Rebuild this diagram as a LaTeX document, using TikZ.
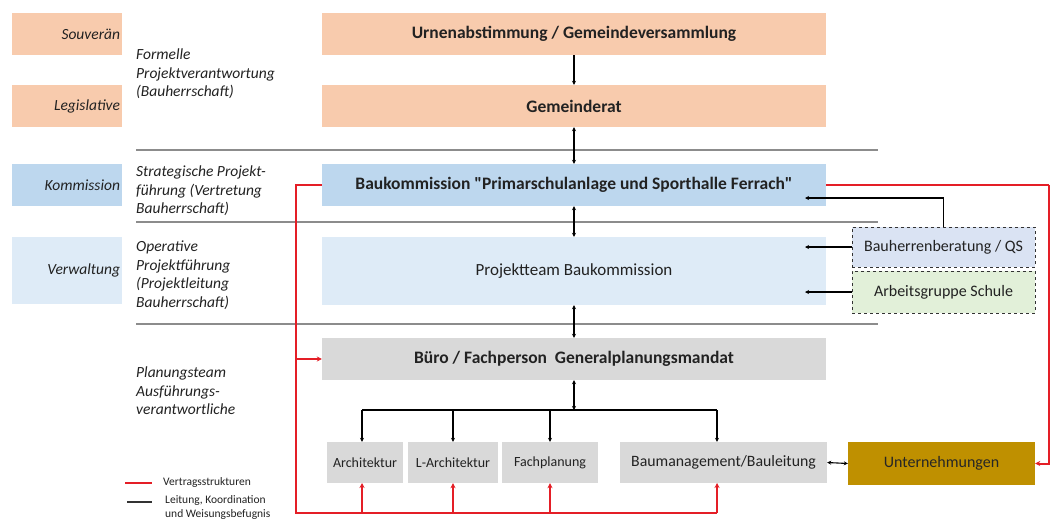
\documentclass[tikz,border=0pt]{standalone}
\usepackage{fontspec}
\setmainfont{Carlito}
\usetikzlibrary{arrows.meta}
\definecolor{peach}{HTML}{F8CBAD}
\definecolor{kblue}{HTML}{BDD7EE}
\definecolor{lblue}{HTML}{DEEBF7}
\definecolor{lgray}{HTML}{D9D9D9}
\definecolor{gold}{HTML}{BF9000}
\definecolor{lav}{HTML}{DAE3F3}
\definecolor{lgreen}{HTML}{E2F0D9}
\definecolor{myred}{HTML}{E41E26}
\definecolor{sepgray}{HTML}{8C8C8C}
\definecolor{txt}{HTML}{222222}
\tikzset{
  box/.style={inner sep=0pt, text=txt},
  sidebox/.style={box, minimum width=110pt, align=right, font=\fontsize{15.5}{17}\selectfont\itshape, text width=106pt},
  sidetxt/.style={inner sep=0pt, anchor=west, align=left, text=txt, font=\fontsize{15.5}{18.5}\selectfont\itshape},
  mainbox/.style={box, minimum width=504pt, font=\fontsize{17.5}{20}\selectfont\bfseries},
  subbox/.style={box, fill=lgray, minimum height=41pt, font=\fontsize{14}{16}\selectfont},
  dbox/.style={box, draw=black!80, dashed, line width=1pt, minimum width=183pt, font=\fontsize{16}{18}\selectfont},
  sep/.style={draw=sepgray, line width=1.5pt},
  arr/.style={draw=black, line width=1.1pt, -{Stealth[length=4pt,width=4pt]}},
  darr/.style={draw=black, line width=1.1pt, {Stealth[length=4pt,width=4pt]}-{Stealth[length=4pt,width=4pt]}},
  redl/.style={draw=myred, line width=2pt},
  redarr/.style={draw=myred, line width=2pt, -{Stealth[length=5pt,width=5pt]}},
}
\begin{document}
\begin{tikzpicture}[x=1pt,y=-1pt]
\useasboundingbox (0,0) rectangle (1051,520);
\fill[white] (0,0) rectangle (1051,520);

% separators
\draw[sep] (136,150) -- (878,150);
\draw[sep] (136,222) -- (878,222);
\draw[sep] (136,324) -- (878,324);

% left category boxes
\node[sidebox, fill=peach, minimum height=42pt] (souv) at (67,34) {Souverän};
\node[sidebox, fill=peach, minimum height=42pt] (legis) at (67,106) {Legislative};
\node[sidebox, fill=kblue, minimum height=42pt] (komm) at (67,185) {Kommission};
\node[sidebox, fill=lblue, minimum height=67pt] (verw) at (67,270.5) {Verwaltung};

% side descriptions
\node[sidetxt] (t1) at (136,74) {Formelle\\Projektverantwortung\\(Bauherrschaft)};
\node[sidetxt] (t2) at (136,191) {Strategische Projekt-\\führung (Vertretung\\Bauherrschaft)};
\node[sidetxt] (t3) at (136,275) {Operative\\Projektführung\\(Projektleitung\\Bauherrschaft)};
\node[sidetxt] (t4) at (136,391) {Planungsteam\\Ausführungs-\\verantwortliche};

% main boxes
\node[mainbox, fill=peach, minimum height=42pt] (urnen) at (574,34) {Urnenabstimmung / Gemeindeversammlung};
\node[mainbox, fill=peach, minimum height=42pt] (gemeinde) at (574,106) {Gemeinderat};
\node[mainbox, fill=kblue, minimum height=42pt] (baukomm) at (574,185) {Baukommission \textquotedbl Primarschulanlage und Sporthalle Ferrach\textquotedbl};
\node[mainbox, fill=lblue, minimum height=68pt, font=\fontsize{17}{19}\selectfont] (projekt) at (574,271) {Projektteam Baukommission};
\node[mainbox, fill=lgray, minimum height=42pt] (buero) at (574,359) {Büro / Fachperson\ \ Generalplanungsmandat};

% sub boxes
\node[subbox, minimum width=76pt] (arch) at (365,462.5) {Architektur};
\node[subbox, minimum width=90pt] (larch) at (453,462.5) {L-Architektur};
\node[subbox, minimum width=96pt] (fach) at (550,462.5) {Fachplanung};
\node[subbox, minimum width=207pt, font=\fontsize{15.8}{18}\selectfont] (baum) at (723.5,462.5) {Baumanagement/Bauleitung};
\node[box, fill=gold, minimum width=187pt, minimum height=43pt, font=\fontsize{16}{18}\selectfont, text=black!85] (untern) at (941.5,463.5) {Unternehmungen};

% dashed boxes
\node[dbox, fill=lav, minimum height=40pt] (bhb) at (943.5,247) {Bauherrenberatung / QS};
\node[dbox, fill=lgreen, minimum height=42pt] (ags) at (943.5,292) {Arbeitsgruppe Schule};

% coordinates
\coordinate (jn) at (574,410);
\coordinate (jl) at (362,410);
\coordinate (jr) at (717,410);
\coordinate (bkin) at (805,198);
\coordinate (pt1) at (805,247);
\coordinate (pt2) at (805,292);
\coordinate (rl) at (296,513);
\coordinate (rr) at (717,513);
\coordinate (rtop) at (1049,185);

% black connectors
\draw[arr] (urnen.south) -- (gemeinde.north);
\draw[darr] (gemeinde.south) -- (baukomm.north);
\draw[darr] (baukomm.south) -- (projekt.north);
\draw[darr] (projekt.south) -- (buero.north);
\draw[darr] (buero.south) -- (jn);
\draw[draw=black, line width=1.1pt] (jl) -- (jr);
\draw[arr] (jl) -- (jl |- arch.north);
\draw[arr] (453,410) -- (larch.north);
\draw[arr] (550,410) -- (fach.north);
\draw[arr] (jr) -- (jr |- baum.north);
\draw[arr] (bhb.north) |- (bkin);
\draw[arr] (bhb.west) -- (pt1);
\draw[arr] (ags.west) -- (pt2);
\draw[darr] (baum.east) -- (untern.west);

% red connectors
\draw[redl] (baukomm.west) -| (rl) -- (rr);
\draw[redarr] (296,359) -- (buero.west);
\draw[redarr] (362,513) -- (362,483);
\draw[redarr] (453,513) -- (larch.south);
\draw[redarr] (550,513) -- (fach.south);
\draw[redarr] (rr) -- (717,483);
\draw[redl] (baukomm.east) -- (rtop);
\draw[redarr] (rtop) |- (untern.east);

% legend
\coordinate (l1a) at (125,483);
\coordinate (l1b) at (152,483);
\coordinate (l2a) at (127,502);
\coordinate (l2b) at (152,502);
\draw[redl, line width=2.5pt] (l1a) -- (l1b);
\draw[draw=black!80, line width=1.5pt] (l2a) -- (l2b);
\node[inner sep=0pt, anchor=west, font=\fontsize{11.5}{13}\selectfont, text=txt] (lg1) at (163,482) {Vertragsstrukturen};
\node[inner sep=0pt, anchor=north west, align=left, font=\fontsize{11.5}{14}\selectfont, text=txt] (lg2) at (165,495) {Leitung, Koordination\\und Weisungsbefugnis};
\end{tikzpicture}
\end{document}
